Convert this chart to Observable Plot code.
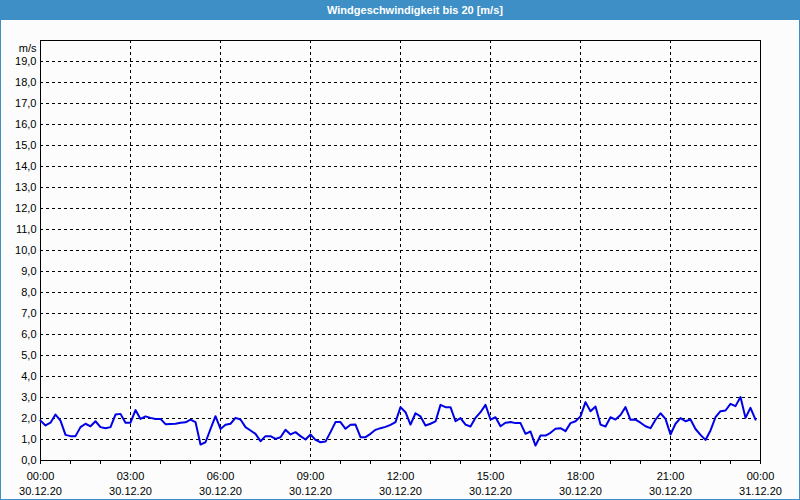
<!DOCTYPE html>
<html>
<head>
<meta charset="utf-8">
<script src="https://cdn.jsdelivr.net/npm/d3@7"></script>
<script src="https://cdn.jsdelivr.net/npm/@observablehq/plot@0.6"></script>
<style>
  html, body { margin: 0; padding: 0; background: #fbfcfb; }
  #title { width: 800px; height: 20px; background: #3d8fc6; color: #fff;
    font: bold 11px "Liberation Sans", Arial, sans-serif; line-height: 20px;
    text-align: center; box-sizing: border-box; padding-left: 30px; }
  #wrap { width: 800px; height: 480px; box-sizing: border-box;
    border: 1px solid #3d8fc6; border-top: none; background: #fbfcfb; }
  #wrap svg { display: block; }
</style>
</head>
<body>
<div id="title">Windgeschwindigkeit bis 20 [m/s]</div>
<div id="wrap"></div>
<script>
const day = "2020-12-30";
const times = [
  "00:00","00:10","00:20","00:30","00:40","00:50",
  "01:00","01:10","01:20","01:30","01:40","01:50",
  "02:00","02:10","02:20","02:30","02:40","02:50",
  "03:00","03:10","03:20","03:30","03:40","03:50",
  "04:00","04:10","04:20","04:30","04:40","04:50",
  "05:00","05:10","05:20","05:30","05:40","05:50",
  "06:00","06:10","06:20","06:30","06:40","06:50",
  "07:00","07:10","07:20","07:30","07:40","07:50",
  "08:00","08:10","08:20","08:30","08:40","08:50",
  "09:00","09:10","09:20","09:30","09:40","09:50",
  "10:00","10:10","10:20","10:30","10:40","10:50",
  "11:00","11:10","11:20","11:30","11:40","11:50",
  "12:00","12:10","12:20","12:30","12:40","12:50",
  "13:00","13:10","13:20","13:30","13:40","13:50",
  "14:00","14:10","14:20","14:30","14:40","14:50",
  "15:00","15:10","15:20","15:30","15:40","15:50",
  "16:00","16:10","16:20","16:30","16:40","16:50",
  "17:00","17:10","17:20","17:30","17:40","17:50",
  "18:00","18:10","18:20","18:30","18:40","18:50",
  "19:00","19:10","19:20","19:30","19:40","19:50",
  "20:00","20:10","20:20","20:30","20:40","20:50",
  "21:00","21:10","21:20","21:30","21:40","21:50",
  "22:00","22:10","22:20","22:30","22:40","22:50",
  "23:00","23:10","23:20","23:30","23:40","23:50"
];
const speeds = [
  1.90, 1.67, 1.80, 2.19, 1.90, 1.22,
  1.16, 1.16, 1.59, 1.75, 1.63, 1.87,
  1.59, 1.54, 1.59, 2.19, 2.22, 1.80,
  1.80, 2.40, 1.98, 2.10, 2.03, 1.98,
  1.98, 1.73, 1.74, 1.75, 1.80, 1.82,
  1.95, 1.83, 0.76, 0.87, 1.50, 2.11,
  1.50, 1.70, 1.75, 2.03, 1.95, 1.59,
  1.43, 1.27, 0.92, 1.16, 1.16, 1.03,
  1.11, 1.46, 1.24, 1.35, 1.16, 1.00,
  1.24, 0.98, 0.87, 0.90, 1.35, 1.83,
  1.83, 1.51, 1.70, 1.71, 1.11, 1.11,
  1.27, 1.46, 1.54, 1.60, 1.70, 1.83,
  2.54, 2.30, 1.71, 2.25, 2.10, 1.67,
  1.75, 1.86, 2.65, 2.54, 2.54, 1.87,
  2.02, 1.71, 1.62, 2.03, 2.30, 2.65,
  1.95, 2.06, 1.63, 1.80, 1.83, 1.78,
  1.78, 1.27, 1.38, 0.71, 1.19, 1.19,
  1.32, 1.51, 1.54, 1.40, 1.78, 1.87,
  2.10, 2.78, 2.35, 2.57, 1.71, 1.62,
  2.06, 1.95, 2.17, 2.54, 1.94, 1.95,
  1.80, 1.63, 1.54, 1.94, 2.25, 1.98,
  1.24, 1.75, 2.02, 1.87, 1.95, 1.50,
  1.22, 0.98, 1.43, 2.06, 2.35, 2.38,
  2.70, 2.59, 3.02, 2.03, 2.51, 1.95
];
const yTicks = [0,1,2,3,4,5,6,7,8,9,10,11,12,13,14,15,16,17,18,19];
const hourTicks = [
  "2020-12-30T00:00","2020-12-30T01:00","2020-12-30T02:00","2020-12-30T03:00",
  "2020-12-30T04:00","2020-12-30T05:00","2020-12-30T06:00","2020-12-30T07:00",
  "2020-12-30T08:00","2020-12-30T09:00","2020-12-30T10:00","2020-12-30T11:00",
  "2020-12-30T12:00","2020-12-30T13:00","2020-12-30T14:00","2020-12-30T15:00",
  "2020-12-30T16:00","2020-12-30T17:00","2020-12-30T18:00","2020-12-30T19:00",
  "2020-12-30T20:00","2020-12-30T21:00","2020-12-30T22:00","2020-12-30T23:00",
  "2020-12-31T00:00"
];
const labelTicks = [
  "2020-12-30T00:00","2020-12-30T03:00","2020-12-30T06:00","2020-12-30T09:00",
  "2020-12-30T12:00","2020-12-30T15:00","2020-12-30T18:00","2020-12-30T21:00",
  "2020-12-31T00:00"
];
const gridXTicks = labelTicks.slice(1, -1);
const xDomain = ["2020-12-30T00:00", "2020-12-31T00:00"];

const toDate = s => new Date(s + ":00Z");
const data = times.map((t, i) => ({time: toDate(day + "T" + t), speed: speeds[i]}));

const fmtTime = d3.utcFormat("%H:%M");
const fmtDate = d3.utcFormat("%d.%m.%y");

const chart = Plot.plot({
  width: 798,
  height: 479,
  marginLeft: 39,
  marginRight: 39,
  marginTop: 20,
  marginBottom: 39,
  style: {fontFamily: "'Liberation Sans', Arial, sans-serif", fontSize: "11px", color: "#000", background: "transparent"},
  x: {type: "utc", domain: xDomain.map(toDate), label: null},
  y: {domain: [0, 20], label: null},
  marks: [
    Plot.gridY({ticks: yTicks.slice(1), stroke: "#000", strokeOpacity: 1, strokeDasharray: "3,3"}),
    Plot.gridX({ticks: gridXTicks.map(toDate), stroke: "#000", strokeOpacity: 1, strokeDasharray: "3,3"}),
    Plot.axisY({ticks: yTicks, tickSize: 0, tickPadding: 4, label: null,
      tickFormat: d => d.toFixed(1).replace(".", ",")}),
    Plot.axisX({ticks: hourTicks.map(toDate), tickSize: 4, label: null, tickFormat: () => ""}),
    Plot.axisX({ticks: labelTicks.map(toDate), tickSize: 0, tickPadding: 9, label: null,
      lineHeight: 1.36,
      tickFormat: d => fmtTime(d) + "\n" + fmtDate(d)}),
    Plot.frame({stroke: "#000"}),
    Plot.lineY(data, {x: "time", y: "speed", stroke: "#0000e6", strokeWidth: 2}),
    Plot.text(["m/s"], {frameAnchor: "top-left", dx: -4, dy: 4, textAnchor: "end", fill: "#000"})
  ]
});
document.getElementById("wrap").appendChild(chart);
</script>
</body>
</html>
